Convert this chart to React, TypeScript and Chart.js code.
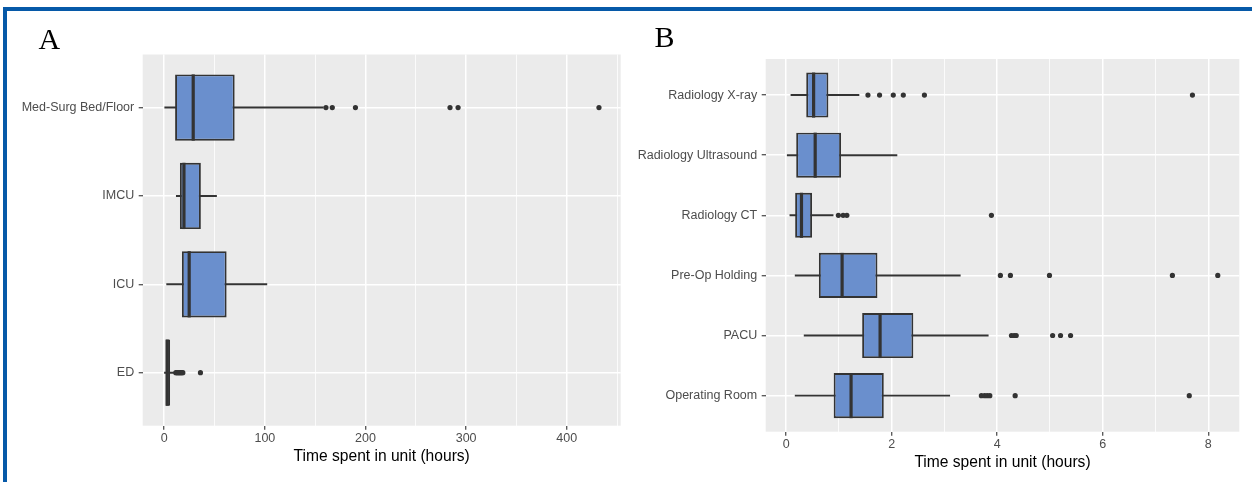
import React, { useEffect, useRef } from 'react';
import { Chart, registerables } from 'chart.js';

Chart.register(...registerables);

// ---------- Panel A data (ordered bottom -> top, as in the figure) ----------
const unitsA = ['ED', 'ICU', 'IMCU', 'Med-Surg Bed/Floor'];
const lowA = [0.2, 2.4, 12, 0.5];
const q1A = [1.3, 17.6, 15.6, 10.8];
const medianA = [3.0, 24.8, 19.6, 28.8];
const q3A = [5.8, 62, 36.4, 70];
const highA = [10, 102, 52, 158];
const outliersA = [
  [11.5, 12.5, 13.5, 14.5, 15.5, 16.5, 17.5, 18.5, 36],
  [],
  [],
  [160.7, 167, 190, 284, 292, 432],
];
const ticksA = [0, 100, 200, 300, 400];

// ---------- Panel B data (ordered bottom -> top) ----------
const unitsB = [
  'Operating Room',
  'PACU',
  'Pre-Op Holding',
  'Radiology CT',
  'Radiology Ultrasound',
  'Radiology X-ray',
];
const lowB = [0.17, 0.34, 0.17, 0.07, 0.02, 0.09];
const q1B = [0.9, 1.44, 0.62, 0.17, 0.19, 0.38];
const medianB = [1.23, 1.78, 1.06, 0.29, 0.55, 0.52];
const q3B = [1.85, 2.41, 1.73, 0.49, 1.04, 0.8];
const highB = [3.1, 3.83, 3.3, 0.89, 2.1, 1.38];
const outliersB = [
  [3.7, 3.76, 3.81, 3.86, 4.34, 7.64],
  [4.27, 4.32, 4.36, 5.05, 5.2, 5.39],
  [4.06, 4.25, 4.99, 7.32, 8.18],
  [0.99, 1.08, 1.15, 3.89],
  [],
  [1.55, 1.77, 2.03, 2.22, 2.62, 7.7],
];
const ticksB = [0, 2, 4, 6, 8];

const xTitle = 'Time spent in unit (hours)';

const SANS = "'Liberation Sans', Arial, Helvetica, sans-serif";
const SERIF = "'Liberation Serif', 'Times New Roman', serif";
const BOX_FILL = '#6A8FCD';
const DARK = '#333333';
const PANEL_BG = '#EBEBEB';
const TICK_FONT = 12.5;
const TITLE_FONT = 15.6;

const panelBg = {
  id: 'panelBg',
  beforeDraw(chart: any) {
    const { ctx, chartArea: a } = chart;
    ctx.save();
    ctx.fillStyle = PANEL_BG;
    ctx.fillRect(a.left, a.top, a.right - a.left, a.bottom - a.top);
    ctx.restore();
  },
};

const medianLines = {
  id: 'medianLines',
  afterDatasetsDraw(chart: any, _args: any, opts: any) {
    if (!opts || !opts.values) return;
    const meta = chart.getDatasetMeta(opts.datasetIndex);
    const xs = chart.scales.x;
    const ctx = chart.ctx;
    ctx.save();
    ctx.strokeStyle = DARK;
    ctx.lineWidth = 3.2;
    ctx.lineCap = 'butt';
    meta.data.forEach((el: any, i: number) => {
      const { y, height } = el.getProps(['y', 'height'], true);
      const px = xs.getPixelForValue(opts.values[i]);
      ctx.beginPath();
      ctx.moveTo(px, y - height / 2);
      ctx.lineTo(px, y + height / 2);
      ctx.stroke();
    });
    ctx.restore();
  },
};

type PanelProps = {
  units: string[];
  low: number[];
  q1: number[];
  median: number[];
  q3: number[];
  high: number[];
  outliers: number[][];
  majorTicks: number[];
  left: number;
  width: number;
  height: number;
  area: { left: number; right: number; top: number; bottom: number };
  titleCenter: number;
};

function BoxPanel(p: PanelProps) {
  const ref = useRef<HTMLCanvasElement | null>(null);

  useEffect(() => {
    if (!ref.current) return;
    const n = p.units.length;
    const all = [...p.low, ...p.high, ...p.outliers.flat()];
    const lo = Math.min(...all);
    const hi = Math.max(...all);
    const pad = (hi - lo) * 0.05;
    const xMin = lo - pad;
    const xMax = hi + pad;
    const step = p.majorTicks[1] - p.majorTicks[0];
    const minorTicks = p.majorTicks
      .map((v) => v + step / 2)
      .filter((v) => v >= xMin && v <= xMax);
    const allTicks = [...p.majorTicks, ...minorTicks].sort((a, b) => a - b);
    const isMajor = (v: number) => p.majorTicks.some((m) => Math.abs(m - v) < 1e-9);

    const xAxisH = 45;
    const lineH = TITLE_FONT * 1.2;
    const scaleBottom = p.area.bottom + xAxisH;
    const titlePadBottom = scaleBottom - p.titleCenter - lineH / 2;

    const chart = new Chart(ref.current, {
      type: 'bar',
      data: {
        datasets: [
          {
            type: 'bar',
            label: 'whisker',
            data: p.units.map((_, i) => ({ y: i + 1, x: [p.low[i], p.high[i]] })) as any,
            backgroundColor: DARK,
            borderWidth: 0,
            barThickness: 1.3,
            grouped: false,
            order: 2,
          } as any,
          {
            type: 'bar',
            label: 'box',
            data: p.units.map((_, i) => ({ y: i + 1, x: [p.q1[i], p.q3[i]] })) as any,
            backgroundColor: BOX_FILL,
            borderColor: DARK,
            borderWidth: 1.9,
            borderSkipped: false,
            barPercentage: 0.75,
            categoryPercentage: 1,
            grouped: false,
            order: 1,
          } as any,
          {
            type: 'scatter',
            label: 'outliers',
            data: p.outliers.flatMap((arr, i) => arr.map((v) => ({ x: v, y: i + 1 }))),
            pointRadius: 2.6,
            pointHoverRadius: 2.6,
            backgroundColor: DARK,
            borderWidth: 0,
            order: 0,
          } as any,
        ],
      },
      options: {
        indexAxis: 'y',
        responsive: false,
        maintainAspectRatio: false,
        animation: false,
        events: [],
        devicePixelRatio: 1,
        layout: {
          padding: {
            left: 0,
            top: p.area.top,
            right: p.width - p.area.right,
            bottom: p.height - p.area.bottom - xAxisH,
          },
        },
        plugins: {
          legend: { display: false },
          tooltip: { enabled: false },
          medianLines: { values: p.median, datasetIndex: 1 },
        } as any,
        scales: {
          x: {
            type: 'linear',
            position: 'bottom',
            min: xMin,
            max: xMax,
            offset: false,
            afterBuildTicks: (scale: any) => {
              scale.ticks = allTicks.map((v) => ({ value: v }));
            },
            afterFit: (scale: any) => {
              scale.height = xAxisH;
            },
            grid: {
              offset: false,
              color: '#FFFFFF',
              lineWidth: (ctx: any) => (ctx.tick && isMajor(ctx.tick.value) ? 1.5 : 0.8),
              drawTicks: true,
              tickLength: 4,
              tickWidth: 1.1,
              tickColor: (ctx: any) =>
                ctx.tick && isMajor(ctx.tick.value) ? DARK : 'rgba(0,0,0,0)',
            },
            border: { display: false },
            ticks: {
              autoSkip: false,
              maxRotation: 0,
              padding: 1.2,
              color: '#4D4D4D',
              font: { family: SANS, size: TICK_FONT },
              callback: (v: any) => (isMajor(Number(v)) ? String(v) : ''),
            },
            title: {
              display: true,
              text: xTitle,
              color: '#000000',
              font: { family: SANS, size: TITLE_FONT, lineHeight: 1.2 },
              padding: { top: 0, bottom: titlePadBottom },
            },
          },
          y: {
            type: 'linear',
            position: 'left',
            min: 0.4,
            max: n + 0.6,
            offset: false,
            afterBuildTicks: (scale: any) => {
              scale.ticks = p.units.map((_, i) => ({ value: i + 1 }));
            },
            afterFit: (scale: any) => {
              scale.width = p.area.left;
            },
            grid: {
              offset: false,
              color: '#FFFFFF',
              lineWidth: 1.5,
              drawTicks: true,
              tickLength: 4,
              tickWidth: 1.1,
              tickColor: DARK,
            },
            border: { display: false },
            ticks: {
              autoSkip: false,
              padding: 4.5,
              color: '#4D4D4D',
              font: { family: SANS, size: TICK_FONT },
              callback: (v: any) => p.units[Math.round(Number(v)) - 1] ?? '',
            },
          },
        },
      } as any,
      plugins: [panelBg, medianLines],
    });

    return () => chart.destroy();
  }, []);

  return (
    <canvas
      ref={ref}
      width={p.width}
      height={p.height}
      style={{
        position: 'absolute',
        left: p.left,
        top: 0,
        width: p.width,
        height: p.height,
      }}
    />
  );
}

export default function App() {
  return (
    <div
      style={{
        position: 'fixed',
        left: 0,
        top: 0,
        width: 1252,
        height: 482,
        background: '#FFFFFF',
        overflow: 'hidden',
      }}
    >
      <BoxPanel
        units={unitsA}
        low={lowA}
        q1={q1A}
        median={medianA}
        q3={q3A}
        high={highA}
        outliers={outliersA}
        majorTicks={ticksA}
        left={0}
        width={626}
        height={482}
        area={{ left: 142.7, right: 620.7, top: 54.5, bottom: 425.7 }}
        titleCenter={456.7}
      />
      <BoxPanel
        units={unitsB}
        low={lowB}
        q1={q1B}
        median={medianB}
        q3={q3B}
        high={highB}
        outliers={outliersB}
        majorTicks={ticksB}
        left={626}
        width={626}
        height={482}
        area={{ left: 139.7, right: 613.3, top: 59, bottom: 431.7 }}
        titleCenter={462.7}
      />
      <div
        style={{
          position: 'absolute',
          left: 38.5,
          top: 24.3,
          fontFamily: SERIF,
          fontSize: 30,
          lineHeight: '30px',
          color: '#000',
        }}
      >
        A
      </div>
      <div
        style={{
          position: 'absolute',
          left: 654.5,
          top: 22.2,
          fontFamily: SERIF,
          fontSize: 30,
          lineHeight: '30px',
          color: '#000',
        }}
      >
        B
      </div>
      <div
        style={{
          position: 'absolute',
          left: 3,
          top: 7,
          width: 1249,
          height: 4,
          background: '#0659A8',
        }}
      />
      <div
        style={{
          position: 'absolute',
          left: 3,
          top: 7,
          width: 4,
          height: 475,
          background: '#0659A8',
        }}
      />
    </div>
  );
}
